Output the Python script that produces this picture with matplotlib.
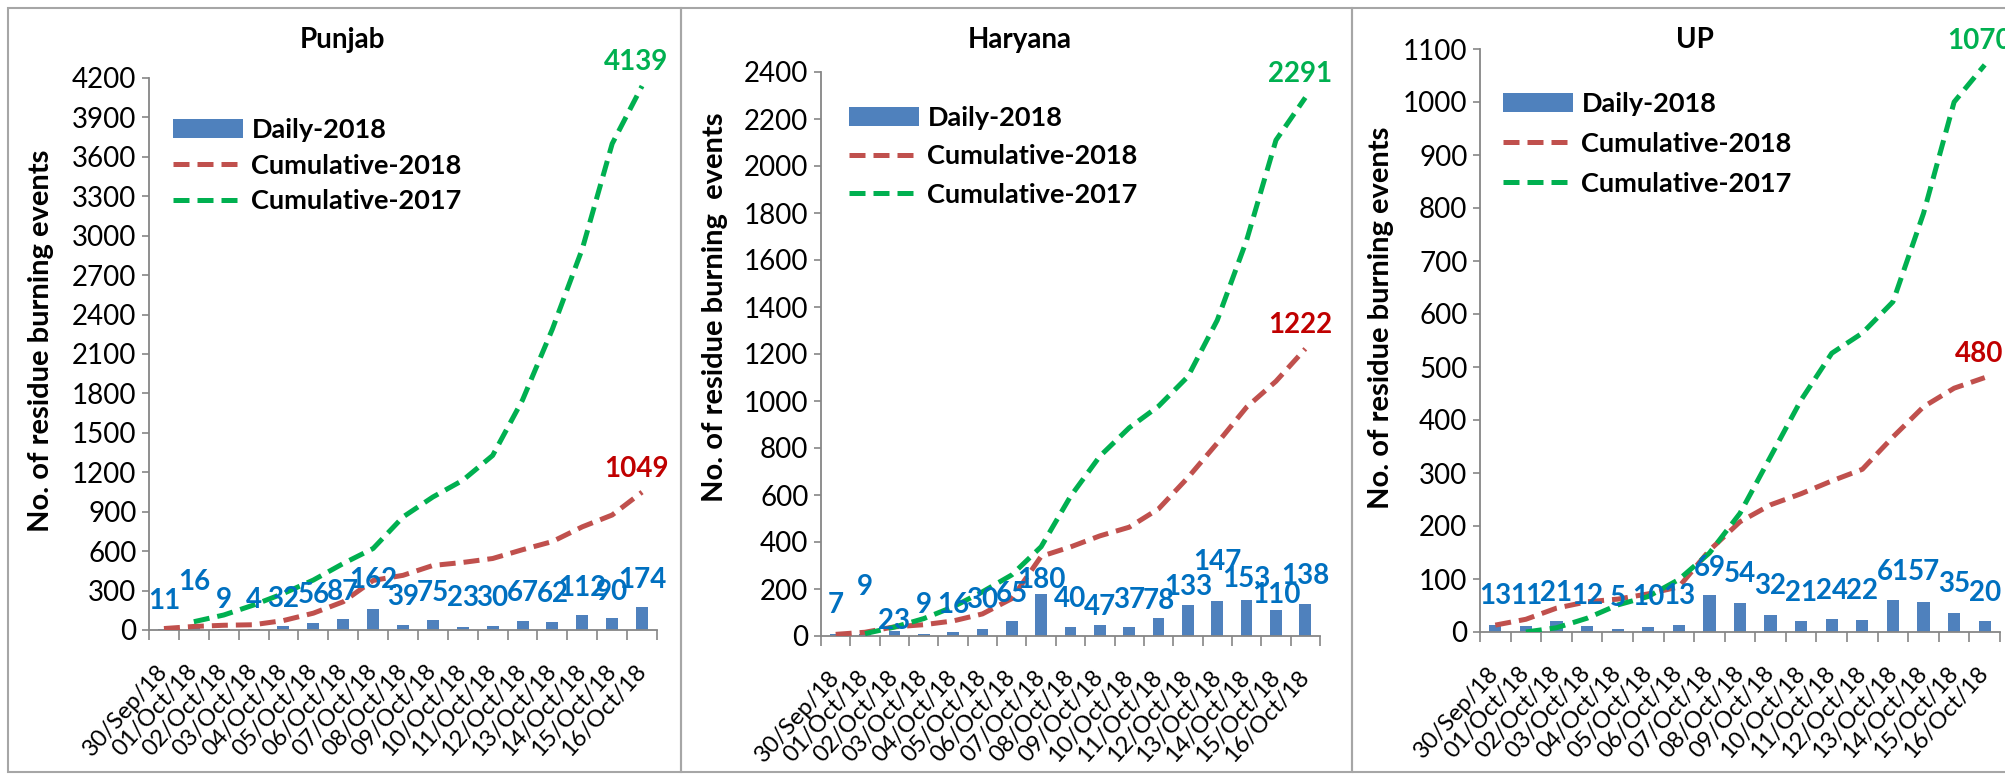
import numpy as np
import matplotlib.pyplot as plt
from matplotlib.patches import Rectangle
from matplotlib.transforms import ScaledTranslation

# x categories
dates = ['30/Sep/18', '01/Oct/18', '02/Oct/18', '03/Oct/18', '04/Oct/18', '05/Oct/18',
         '06/Oct/18', '07/Oct/18', '08/Oct/18', '09/Oct/18', '10/Oct/18', '11/Oct/18',
         '12/Oct/18', '13/Oct/18', '14/Oct/18', '15/Oct/18', '16/Oct/18']

# Punjab
punjab_daily = [11, 16, 9, 4, 32, 56, 87, 162, 39, 75, 23, 30, 67, 62, 112, 90, 174]
punjab_cum18 = [11, 27, 36, 40, 72, 128, 215, 377, 416, 491, 514, 544, 611, 673, 785, 875, 1049]
punjab_cum17 = [np.nan, 63, 114, 190, 278, 380, 506, 620, 860, 1012, 1139, 1328, 1750, 2290, 2900, 3700, 4139]

# Haryana
haryana_daily = [7, 9, 23, 9, 16, 30, 65, 180, 40, 47, 37, 78, 133, 147, 153, 110, 138]
haryana_cum18 = [7, 16, 39, 48, 64, 94, 159, 339, 379, 426, 463, 541, 674, 821, 974, 1084, 1222]
haryana_cum17 = [np.nan, 10, 38, 74, 124, 188, 260, 380, 594, 765, 886, 978, 1104, 1344, 1684, 2110, 2291]

# UP
up_daily = [13, 11, 21, 12, 5, 10, 13, 69, 54, 32, 21, 24, 22, 61, 57, 35, 20]
up_cum18 = [13, 24, 45, 57, 62, 72, 85, 154, 208, 240, 261, 285, 307, 368, 425, 460, 480]
up_cum17 = [np.nan, 0, 8, 26, 51, 67, 99, 149, 224, 331, 438, 526, 564, 623, 790, 1000, 1070]

W, H = 2006, 774
plt.rcParams['font.family'] = ['Lato', 'DejaVu Sans']

BLUE = '#4F81BD'
RED = '#C0504D'
GREEN = '#00B050'
GRAY = '#868686'

fig = plt.figure(figsize=(W / 100, H / 100), dpi=100)

# panel frames (pixels: left, right)
for x0, x1 in [(8, 681), (681, 1352), (1352, 2040)]:
    fig.add_artist(Rectangle((x0 / W, 2 / H), (x1 - x0) / W, (H - 10) / H,
                             transform=fig.transFigure, fill=False,
                             edgecolor='#A6A6A6', lw=1.5))


def draw_panel(box, title, title_x, daily, cum18, cum17, ymax, ystep, ylabel,
               ylab_pos, leg_pos, leg_space, lab_off):
    l, t, r, b = box
    ax = fig.add_axes([l / W, 1 - b / H, (r - l) / W, (b - t) / H])
    x = np.arange(len(dates))
    bars = ax.bar(x, daily, width=0.4, color=BLUE, label='Daily-2018', zorder=2)
    l18, = ax.plot(x, cum18, color=RED, lw=3.6, ls=(0, (3.2, 1.6)), label='Cumulative-2018', zorder=3)
    l17, = ax.plot(x, cum17, color=GREEN, lw=3.6, ls=(0, (3.2, 1.6)), label='Cumulative-2017', zorder=3)

    for i, v in enumerate(daily):
        ax.annotate(str(v), (i, v), xytext=(0, lab_off[i] * 0.72), textcoords='offset points',
                    ha='center', va='center', color='#0070C0', fontsize=20,
                    fontweight='bold', zorder=5)
    n = len(dates) - 1
    ax.annotate(str(cum17[n]), (n, cum17[n]), xytext=(-4, 17), textcoords='offset points',
                ha='center', va='center', color=GREEN, fontsize=20, fontweight='bold',
                annotation_clip=False)
    ax.annotate(str(cum18[n]), (n, cum18[n]), xytext=(-4, 17), textcoords='offset points',
                ha='center', va='center', color='#C00000', fontsize=20, fontweight='bold',
                annotation_clip=False)

    ax.set_xlim(-0.5, len(dates) - 0.5)
    ax.set_ylim(0, ymax)
    ax.set_yticks(np.arange(0, ymax + 1, ystep))
    ax.set_xticks(x)
    ax.set_xticklabels(dates, rotation=48, ha='right', va='center', rotation_mode='anchor')
    shift = ScaledTranslation(8 / 72, 0, fig.dpi_scale_trans)
    for lbl in ax.get_xticklabels():
        lbl.set_transform(lbl.get_transform() + shift)
    ax.set_xticks(np.arange(-0.5, len(dates)), minor=True)
    ax.tick_params(axis='x', which='major', length=0, pad=27, labelsize=17)
    ax.tick_params(axis='x', which='minor', length=7, width=1.2, color=GRAY, direction='out')
    ax.tick_params(axis='y', length=5, width=1.2, color=GRAY, labelsize=20, pad=4)
    for s in ['top', 'right']:
        ax.spines[s].set_visible(False)
    for s in ['left', 'bottom']:
        ax.spines[s].set_color(GRAY)
        ax.spines[s].set_linewidth(1.3)

    ax.set_ylabel(ylabel, fontsize=21, fontweight='bold', va='center')
    ax.yaxis.set_label_coords(*ylab_pos)

    ax.legend([bars, l18, l17], ['Daily-2018', 'Cumulative-2018', 'Cumulative-2017'],
              loc='upper left', bbox_to_anchor=leg_pos, frameon=False,
              prop={'weight': 'bold', 'size': 19.5}, handlelength=2.6, handleheight=0.7,
              handletextpad=0.3, labelspacing=leg_space, borderpad=0, borderaxespad=0)

    fig.text(title_x / W, 1 - 40 / H, title, ha='center', va='center',
             fontsize=20, fontweight='bold')
    return ax


draw_panel((149, 78, 657, 630), 'Punjab', 343, punjab_daily, punjab_cum18, punjab_cum17,
           4200, 300, 'No. of residue burning events', (-0.213, 0.524), (0.047, 0.927), 0.42,
           [28, 46, 29, 29, 27, 28, 27, 29, 28, 27, 29, 28, 28, 28, 27, 26, 27])

draw_panel((821, 72, 1320, 636), 'Haryana', 1020, haryana_daily, haryana_cum18, haryana_cum17,
           2400, 200, 'No. of residue burning  events', (-0.212, 0.583), (0.056, 0.939), 0.52,
           [29, 47, 10, 29, 27, 29, 27, 14, 28, 18, 27, 17, 18, 39, 21, 15, 28])

draw_panel((1480, 49, 2000, 632), 'UP', 1695, up_daily, up_cum18, up_cum17,
           1100, 100, 'No. of residue burning events', (-0.19, 0.539), (0.044, 0.926), 0.58,
           [29, 30, 28, 30, 31, 30, 29, 27, 29, 29, 28, 28, 29, 28, 30, 29, 28])

plt.savefig('out.png', dpi=100)
